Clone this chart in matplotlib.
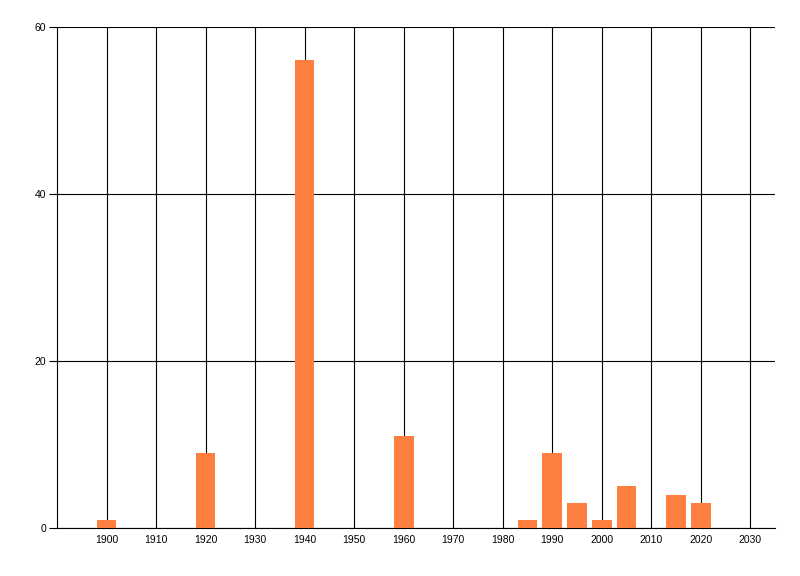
import matplotlib
matplotlib.use('Agg')
from matplotlib import pyplot as plt

# 数据
years = [1900, 1920, 1940, 1960, 1985, 1990, 1995, 2000, 2005, 2015, 2020]
counts = [1, 9, 56, 11, 1, 9, 3, 1, 5, 4, 3]
xticks = list(range(1900, 2031, 10))
yticks = [0, 20, 40, 60]

plt.rcParams['font.family'] = ['Liberation Sans', 'DejaVu Sans']

fig = plt.figure(figsize=(8, 5.76), dpi=100)
ax = fig.add_axes([57/800, 1-528/576, (775-57)/800, (528-27)/576])

ax.bar(years, counts, width=4, color='#ff7f41', zorder=3)

ax.set_xlim(1890, 2035)
ax.set_ylim(0, 60)
ax.set_xticks(xticks)
ax.set_yticks(yticks)
ax.tick_params(axis='x', length=0, labelsize=7.5, pad=5)
ax.tick_params(axis='y', length=6, width=0.8, labelsize=7.5, pad=2)
ax.grid(True, color='black', linewidth=0.8, zorder=0)
ax.set_axisbelow(True)

for s in ['top', 'right']:
    ax.spines[s].set_visible(False)
for s in ['left', 'bottom']:
    ax.spines[s].set_linewidth(0.8)

fig.savefig('out.png', dpi=100)
